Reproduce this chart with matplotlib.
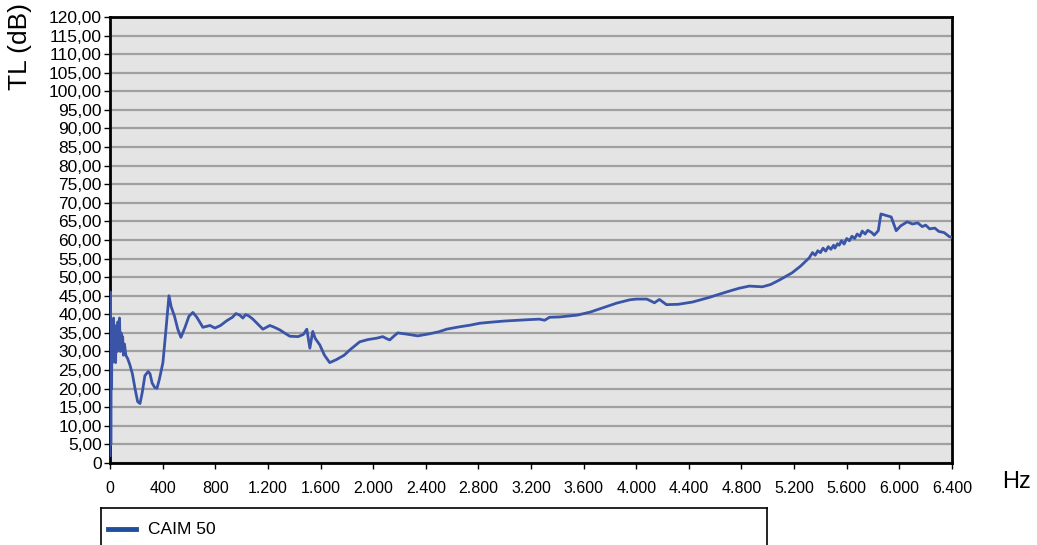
import matplotlib.pyplot as plt
from matplotlib.ticker import FuncFormatter

# frequência (Hz) e perda de transmissão TL (dB)
freq = [0, 3, 6, 9, 12, 15, 18, 21, 24, 27, 30, 36, 42, 48, 54, 60, 66, 72, 78,
        84, 90, 96, 102, 110, 120, 135, 150, 170, 190, 210, 228, 245, 265, 290,
        304, 320, 340, 357, 375, 402, 425, 448, 465, 490, 515, 539, 570, 600, 630,
        660, 706, 760, 797, 840, 888, 930, 957, 985, 1010, 1030, 1048, 1065, 1086,
        1120, 1162, 1215, 1250, 1291, 1330, 1367, 1430, 1470, 1496, 1510, 1519,
        1541, 1560, 1594, 1630, 1670, 1720, 1780, 1822, 1898, 1960, 2030, 2073,
        2100, 2126, 2160, 2187, 2250, 2339, 2420, 2500, 2559, 2650, 2740, 2810,
        2900, 3000, 3100, 3200, 3265, 3303, 3341, 3420, 3554, 3650, 3750, 3850,
        3950, 4001, 4080, 4110, 4138, 4176, 4230, 4320, 4427, 4550, 4685, 4780,
        4860, 4958, 5020, 5087, 5186, 5250, 5315, 5340, 5360, 5380, 5400, 5420,
        5440, 5460, 5480, 5500, 5510, 5530, 5543, 5560, 5580, 5600, 5620, 5640,
        5660, 5680, 5700, 5718, 5740, 5760, 5790, 5809, 5840, 5860, 5900,
        5938, 5976, 6010, 6060, 6100, 6140, 6174, 6200, 6230, 6270, 6300, 6340,
        6380, 6400]
tl = [2, 46, 5, 33, 20, 38, 27, 35, 30, 39, 31, 37, 27, 36, 30, 38, 31, 39, 30,
      35, 31, 34, 29, 32, 29, 28, 26.5, 24, 20, 16.5, 16, 19, 23.5, 24.6,
      24, 21.5, 20.3, 20.1, 22.5, 27, 35.8, 45, 42, 39.5, 36, 33.8, 36.5, 39.5, 40.5,
      39.2, 36.5, 37, 36.3, 37, 38.3, 39.2, 40.2, 39.8, 39, 39.9, 39.7, 39.3, 38.7,
      37.5, 36, 37, 36.5, 35.8, 34.9, 34.1, 34, 34.6, 36, 33, 30.9,
      35.4, 33.5, 31.8, 29, 27, 27.8, 29, 30.4, 32.6, 33.2, 33.6, 34,
      33.5, 33.1, 34.2, 35, 34.7, 34.2, 34.7, 35.3, 36, 36.6, 37.1, 37.6,
      37.9, 38.2, 38.4, 38.6, 38.7, 38.4, 39.2, 39.3, 39.8, 40.6, 41.8, 43,
      43.9, 44.1, 44.1, 43.6, 43.1, 44, 42.6, 42.7, 43.3, 44.5, 46, 47,
      47.6, 47.4, 48, 49.2, 51.2, 53, 55.2, 56.6, 55.9, 57.1, 56.6, 57.8,
      57.0, 58.2, 57.5, 58.6, 57.8, 59.0, 58.6, 59.8, 58.9, 60.4, 59.8, 61.0,
      60.4, 61.6, 61.0, 62.4, 61.6, 62.6, 62.0, 61.3, 62.5, 67, 66.6,
      66.2, 62.5, 63.8, 64.9, 64.3, 64.6, 63.6, 64.0, 63.0, 63.2, 62.3, 62.0,
      60.9, 60.7]

serie_nome = 'CAIM 50'
yticks = list(range(0, 121, 5))
xticks = list(range(0, 6401, 400))

plt.rcParams['font.family'] = ['Liberation Sans', 'DejaVu Sans']

fig = plt.figure(figsize=(10.37, 5.45), dpi=100)
ax = fig.add_axes([0.1061, 0.1505, 0.8119, 0.8183])
ax.set_facecolor('#e4e4e4')

ax.plot(freq, tl, color='#3a55a8', linewidth=2, zorder=3)

ax.set_xlim(0, 6400)
ax.set_ylim(0, 120)
ax.set_xticks(xticks)
ax.set_yticks(yticks)


def fmt_y(v, pos):
    if v == 0:
        return '0'
    return f'{v:.2f}'.replace('.', ',')


def fmt_x(v, pos):
    return f'{int(v):,}'.replace(',', '.')


ax.yaxis.set_major_formatter(FuncFormatter(fmt_y))
ax.xaxis.set_major_formatter(FuncFormatter(fmt_x))
ax.tick_params(axis='both', direction='out', length=4, width=1, colors='black')
ax.tick_params(axis='x', labelsize=11.5, pad=9)
ax.tick_params(axis='y', labelsize=12.5, pad=2)

ax.grid(axis='y', color='#a0a0a0', linewidth=1.6, zorder=1)
ax.set_axisbelow(True)
for s in ax.spines.values():
    s.set_linewidth(2)
    s.set_color('black')

fig.text(0.008, 0.995, 'TL (dB)', rotation=90, fontsize=19, va='top', ha='left')
fig.text(0.966, 0.115, 'Hz', fontsize=17, va='center', ha='left')

# caixa da legenda
leg_ax = fig.add_axes([101 / 1037, -0.05, 666 / 1037, (545 - 508) / 545 + 0.05])
leg_ax.set_xlim(0, 666)
leg_ax.set_ylim(0, 1)
leg_ax.set_xticks([])
leg_ax.set_yticks([])
for s in leg_ax.spines.values():
    s.set_linewidth(1.2)
leg_ax.plot([7, 35], [0.67, 0.67], color='#1f4f9c', linewidth=3.5)
leg_ax.text(47, 0.67, serie_nome, fontsize=12.5, va='center', ha='left')

fig.savefig('out.png', dpi=100)
